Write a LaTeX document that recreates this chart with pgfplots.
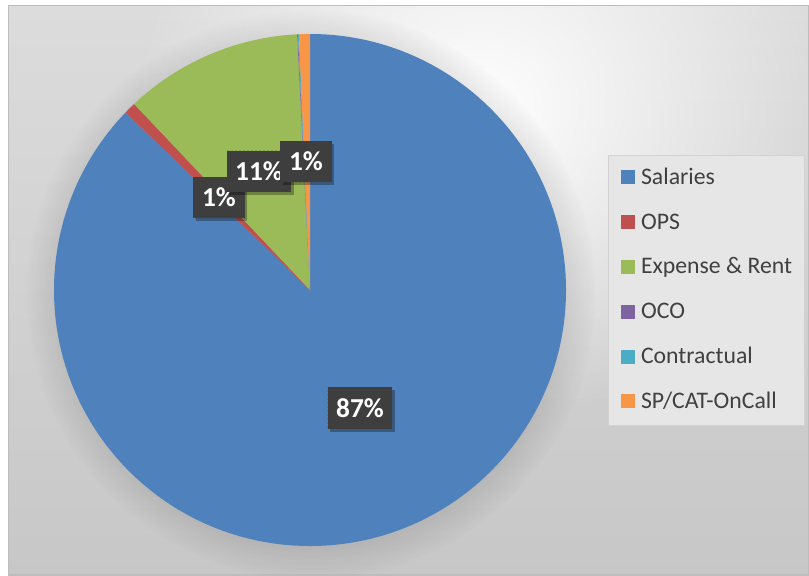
\documentclass[border=0pt]{standalone}
\usepackage{pgfplots}
\pgfplotsset{compat=1.18}
\usepackage{pgfplotstable}
\usepackage{fontspec}
\setmainfont{Carlito}
\usetikzlibrary{shadows,fadings,patterns}

\definecolor{cSal}{HTML}{4F81BD}
\definecolor{cOPS}{HTML}{C0504D}
\definecolor{cExp}{HTML}{9BBB59}
\definecolor{cOCO}{HTML}{8064A2}
\definecolor{cCon}{HTML}{4BACC6}
\definecolor{cSP}{HTML}{F79646}
\definecolor{lblbox}{HTML}{3E3E3E}
\definecolor{txtgray}{HTML}{404040}
\definecolor{bgtop}{HTML}{DCDCDC}
\definecolor{bgbot}{HTML}{C7C7C7}
\definecolor{legbg}{HTML}{E6E6E6}
\definecolor{legbd}{HTML}{D2D2D2}
\definecolor{frame}{HTML}{BDBDBD}

\tikzfading[name=softglow, inner color=transparent!0, outer color=transparent!100]

\pgfplotstableread{
name value
Salaries 87.20
OPS 0.75
Expense 11.25
OCO 0.05
Contractual 0.06
SPCAT 0.69
}\piedata

\begin{document}
\begin{tikzpicture}
\pgfplotstablegetelem{0}{value}\of\piedata\let\vA\pgfplotsretval
\pgfplotstablegetelem{1}{value}\of\piedata\let\vB\pgfplotsretval
\pgfplotstablegetelem{2}{value}\of\piedata\let\vC\pgfplotsretval
\pgfplotstablegetelem{3}{value}\of\piedata\let\vD\pgfplotsretval
\pgfplotstablegetelem{4}{value}\of\piedata\let\vE\pgfplotsretval
\pgfplotstablegetelem{5}{value}\of\piedata\let\vF\pgfplotsretval
\pgfmathsetmacro\aA{90}
\pgfmathsetmacro\aB{\aA-3.6*\vA}
\pgfmathsetmacro\aC{\aB-3.6*\vB}
\pgfmathsetmacro\aD{\aC-3.6*\vC}
\pgfmathsetmacro\aE{\aD-3.6*\vD}
\pgfmathsetmacro\aF{\aE-3.6*\vE}
\pgfmathsetmacro\aG{\aF-3.6*\vF}
\begin{axis}[
  name=ax,
  width=606.75pt, height=431.25pt, scale only axis,
  xmin=0, xmax=809, ymin=0, ymax=575, y dir=reverse,
  enlargelimits=false, hide axis, clip=false,
  legend image code/.code={\fill[#1, draw=none] (0pt,0pt) rectangle (10.5pt,10.5pt);},
  legend style={at={(axis cs:608,155)}, anchor=north west,
    fill=legbg, draw=legbd, line width=0.6pt,
    font=\fontsize{17.8}{21}\selectfont, text=txtgray,
    inner xsep=9.5pt, inner ysep=9.7pt,
    nodes={inner sep=0pt, text height=12pt, text depth=3pt, anchor=base west},
    row sep=18.6pt,
    /tikz/every odd column/.append style={column sep=4.5pt}},
  legend cell align=left,
]
% background
\fill[white] (0,0) rectangle (809,575);
\shade[top color=bgtop, bottom color=bgbot] (8,5) rectangle (809,575);
\fill[white, path fading=softglow] (480,110) ellipse [x radius=260pt, y radius=235pt];
\draw[frame, line width=0.8pt] (8.5,5.5) rectangle (809,575);
% pie shadow
\fill[black, opacity=0.16, path fading=circle with fuzzy edge 20 percent] (311,294) circle [radius=214pt];
% slices
\fill[cSal] (310,290) -- ++(\aA:192pt) arc[start angle=\aA, end angle=\aB, radius=192pt] -- cycle;
\fill[cOPS] (310,290) -- ++(\aB:192pt) arc[start angle=\aB, end angle=\aC, radius=192pt] -- cycle;
\fill[cExp] (310,290) -- ++(\aC:192pt) arc[start angle=\aC, end angle=\aD, radius=192pt] -- cycle;
\fill[cOCO] (310,290) -- ++(\aD:192pt) arc[start angle=\aD, end angle=\aE, radius=192pt] -- cycle;
\fill[cCon] (310,290) -- ++(\aE:192pt) arc[start angle=\aE, end angle=\aF, radius=192pt] -- cycle;
\fill[cSP]  (310,290) -- ++(\aF:192pt) arc[start angle=\aF, end angle=\aG, radius=192pt] -- cycle;
% data labels
\tikzset{lbl/.style={fill=lblbox, text=white, font=\fontsize{20.5}{24}\selectfont\bfseries,
   inner xsep=6.5pt, inner ysep=0pt, minimum height=31pt, text height=14pt, text depth=0pt,
   general shadow={shadow xshift=2.2pt, shadow yshift=-2.2pt, fill=black, opacity=0.3},
   postaction={pattern=dots, pattern color=gray!55!black}}}
\node[lbl] at (360,408) {87\%};
\node[lbl] at (219,197.5) {1\%};
\node[lbl] at (259,171.5) {11\%};
\node[lbl] at (306,161.5) {1\%};
% legend
\addlegendimage{fill=cSal}\addlegendentry{Salaries}
\addlegendimage{fill=cOPS}\addlegendentry{OPS}
\addlegendimage{fill=cExp}\addlegendentry{Expense \& Rent}
\addlegendimage{fill=cOCO}\addlegendentry{OCO}
\addlegendimage{fill=cCon}\addlegendentry{Contractual}
\addlegendimage{fill=cSP}\addlegendentry{SP/CAT-OnCall}
\end{axis}
\pgfresetboundingbox
\path[use as bounding box] (ax.south west) rectangle (ax.north east);
\end{tikzpicture}
\end{document}
